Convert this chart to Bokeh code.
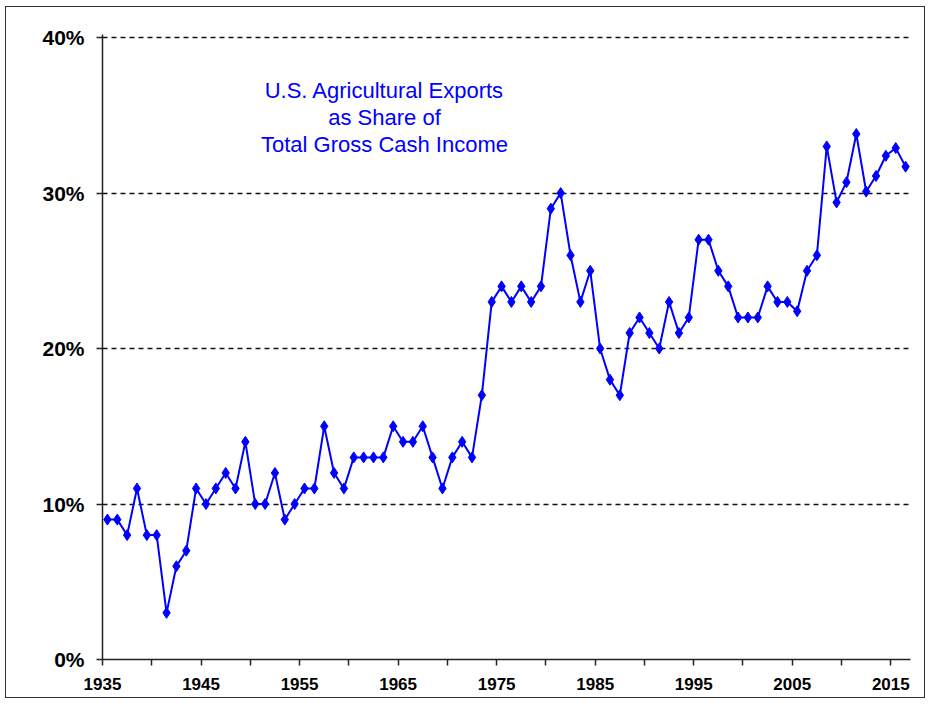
from bokeh.plotting import figure
from bokeh.models import Range1d, FixedTicker, PrintfTickFormatter, Label, ColumnDataSource
from bokeh.transform import dodge
from bokeh.embed import file_html
from bokeh.resources import INLINE

years = list(range(1935, 2017))
share = [9, 9, 8, 11, 8, 8, 3, 6, 7, 11,
         10, 11, 12, 11, 14, 10, 10, 12, 9, 10,
         11, 11, 15, 12, 11, 13, 13, 13, 13, 15,
         14, 14, 15, 13, 11, 13, 14, 13, 17, 23,
         24, 23, 24, 23, 24, 29, 30, 26, 23, 25,
         20, 18, 17, 21, 22, 21, 20, 23, 21, 22,
         27, 27, 25, 24, 22, 22, 22, 24, 23, 23,
         22.4, 25, 26, 33, 29.4, 30.7, 33.8, 30.1, 31.1, 32.4,
         32.9, 31.7]
x_major = [1935, 1945, 1955, 1965, 1975, 1985, 1995, 2005, 2015]
x_minor = [1940, 1950, 1960, 1970, 1980, 1990, 2000, 2010]
y_ticks = [0, 10, 20, 30, 40]
title_lines = ["U.S. Agricultural Exports", "as Share of", "Total Gross Cash Income"]

src = ColumnDataSource(data=dict(year=years, share=share))

p = figure(width=920, height=692, output_backend="svg", toolbar_location=None,
           x_range=Range1d(1935, 2017), y_range=Range1d(0, 40.2),
           min_border_left=96, min_border_right=16, min_border_top=27, min_border_bottom=40)
p.styles = {"border": "1px solid #333", "margin": "6px 0px 0px 5px"}
p.outline_line_color = None
p.background_fill_color = "white"

xd = dodge("year", 0.5, range=p.x_range)
p.line(x=xd, y="share", source=src, line_color="#0000FF", line_width=2)
p.scatter(x=xd, y="share", source=src, marker="diamond", size=11,
          fill_color="#0000FF", line_color="#0000FF")

p.xaxis.ticker = FixedTicker(ticks=x_major, minor_ticks=x_minor)
p.yaxis.ticker = FixedTicker(ticks=y_ticks)
p.yaxis.formatter = PrintfTickFormatter(format="%d%%")

for ax in (p.xaxis[0], p.yaxis[0]):
    ax.axis_line_color = "#222"
    ax.axis_line_width = 1.5
    ax.major_tick_line_color = "#222"
    ax.minor_tick_line_color = "#222"
    ax.major_tick_line_width = 1.5
    ax.minor_tick_line_width = 1.5
    ax.major_tick_in = 0
    ax.major_tick_out = 6
    ax.minor_tick_in = 0
    ax.minor_tick_out = 6
    ax.major_label_text_font = "Liberation Sans"
    ax.major_label_text_font_style = "bold"
    ax.major_label_text_color = "black"

p.xaxis.major_label_text_font_size = "17px"
p.xaxis.major_label_standoff = 12
p.yaxis.major_label_text_font_size = "21px"
p.yaxis.major_label_standoff = 12
p.yaxis.minor_tick_out = 0

p.xgrid.grid_line_color = None
p.ygrid.grid_line_color = "#111"
p.ygrid.grid_line_dash = "5 4"
p.ygrid.grid_line_width = 1.5

for i, t in enumerate(title_lines):
    p.add_layout(Label(x=282, y=569 - 27 * i, x_units="screen", y_units="screen",
                       text=t, text_align="center", text_baseline="middle",
                       text_color="#0000FF", text_font="Liberation Sans",
                       text_font_size="22px"))

open("out.html", "w").write(file_html(p, INLINE))
